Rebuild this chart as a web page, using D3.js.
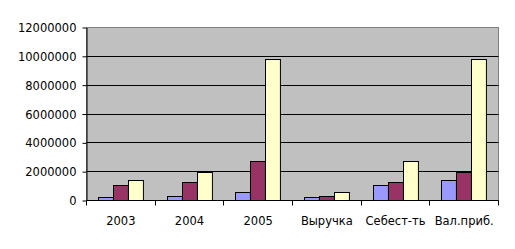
<!DOCTYPE html>
<html>
<head>
<meta charset="utf-8">
<script src="https://cdn.jsdelivr.net/npm/d3@7"></script>
<style>
  body { margin: 0; background: #fff; }
  svg text { font-family: "DejaVu Sans", Verdana, sans-serif; font-size: 11.5px; fill: #000; }
</style>
</head>
<body>
<div id="chart"></div>
<script>
// categories along the x axis
const categories = ["2003", "2004", "2005", "Выручка", "Себест-ть", "Вал.приб."]
// three series, one value per category
const series1 = [230000, 300000, 576000, 230000, 1060000, 1410000]
const series2 = [1060000, 1270000, 2730000, 300000, 1270000, 1960000]
const series3 = [1410000, 1960000, 9800000, 576000, 2730000, 9800000]
const seriesColors = ["#9999FF", "#993366", "#FFFFCC"]
const yTicks = [0, 2000000, 4000000, 6000000, 8000000, 10000000, 12000000]

var margin = { top: 27.5, left: 86.5 }
  , width = 412
  , height = 173

var svg = d3.select("#chart").append("svg")
  .attr("width", 515)
  .attr("height", 249)
  .append("g")
  .attr("transform", "translate(" + margin.left + "," + margin.top + ")")

var x0 = d3.scaleBand()
  .domain(categories)
  .range([0, width])
  .paddingInner(0.348)
  .paddingOuter(0.174)

var x1 = d3.scaleBand()
  .domain([0, 1, 2])
  .range([0, x0.bandwidth()])

var y = d3.scaleLinear()
  .domain([0, 12000000])
  .range([height, 0])

// plot area
svg.append("rect")
  .attr("width", width)
  .attr("height", height)
  .attr("fill", "#C0C0C0")
  .attr("stroke", "#808080")

// gridlines
svg.selectAll(".grid")
  .data(yTicks.slice(1, -1))
  .enter().append("line")
  .attr("x1", 0).attr("x2", width)
  .attr("y1", d => Math.round(y(d)))
  .attr("y2", d => Math.round(y(d)))
  .attr("stroke", "#000")

// bars
const allSeries = [series1, series2, series3]
const groups = svg.selectAll(".cat")
  .data(categories)
  .enter().append("g")
  .attr("transform", d => "translate(" + Math.round(x0(d)) + ",0)")

groups.selectAll("rect")
  .data((d, i) => allSeries.map((s, k) => ({ k, v: s[i] })))
  .enter().append("rect")
  .attr("x", d => Math.round(x1(d.k)))
  .attr("y", d => Math.round(y(d.v)))
  .attr("width", x1.bandwidth())
  .attr("height", d => height - Math.round(y(d.v)))
  .attr("fill", d => seriesColors[d.k])
  .attr("stroke", "#000")

// y axis
var yAxis = svg.append("g")
  .call(d3.axisLeft(y).tickValues(yTicks).tickFormat(d3.format("d")).tickSizeInner(4).tickSizeOuter(0).tickPadding(6))
yAxis.select(".domain").attr("stroke", "#000")
yAxis.selectAll("text").attr("dy", "0.35em")

// x axis with ticks at category boundaries
var xAxis = svg.append("g")
  .attr("transform", "translate(0," + height + ")")
xAxis.append("line").attr("x1", 0).attr("x2", width).attr("stroke", "#000")
xAxis.selectAll(".tk")
  .data(d3.range(categories.length + 1))
  .enter().append("line")
  .attr("x1", i => Math.round(i * x0.step()))
  .attr("x2", i => Math.round(i * x0.step()))
  .attr("y1", 0).attr("y2", 5)
  .attr("stroke", "#000")
xAxis.selectAll("text")
  .data(categories)
  .enter().append("text")
  .attr("x", d => x0(d) + x0.bandwidth() / 2)
  .attr("y", 20)
  .attr("dy", "0.35em")
  .attr("text-anchor", "middle")
  .text(d => d)
</script>
</body>
</html>
